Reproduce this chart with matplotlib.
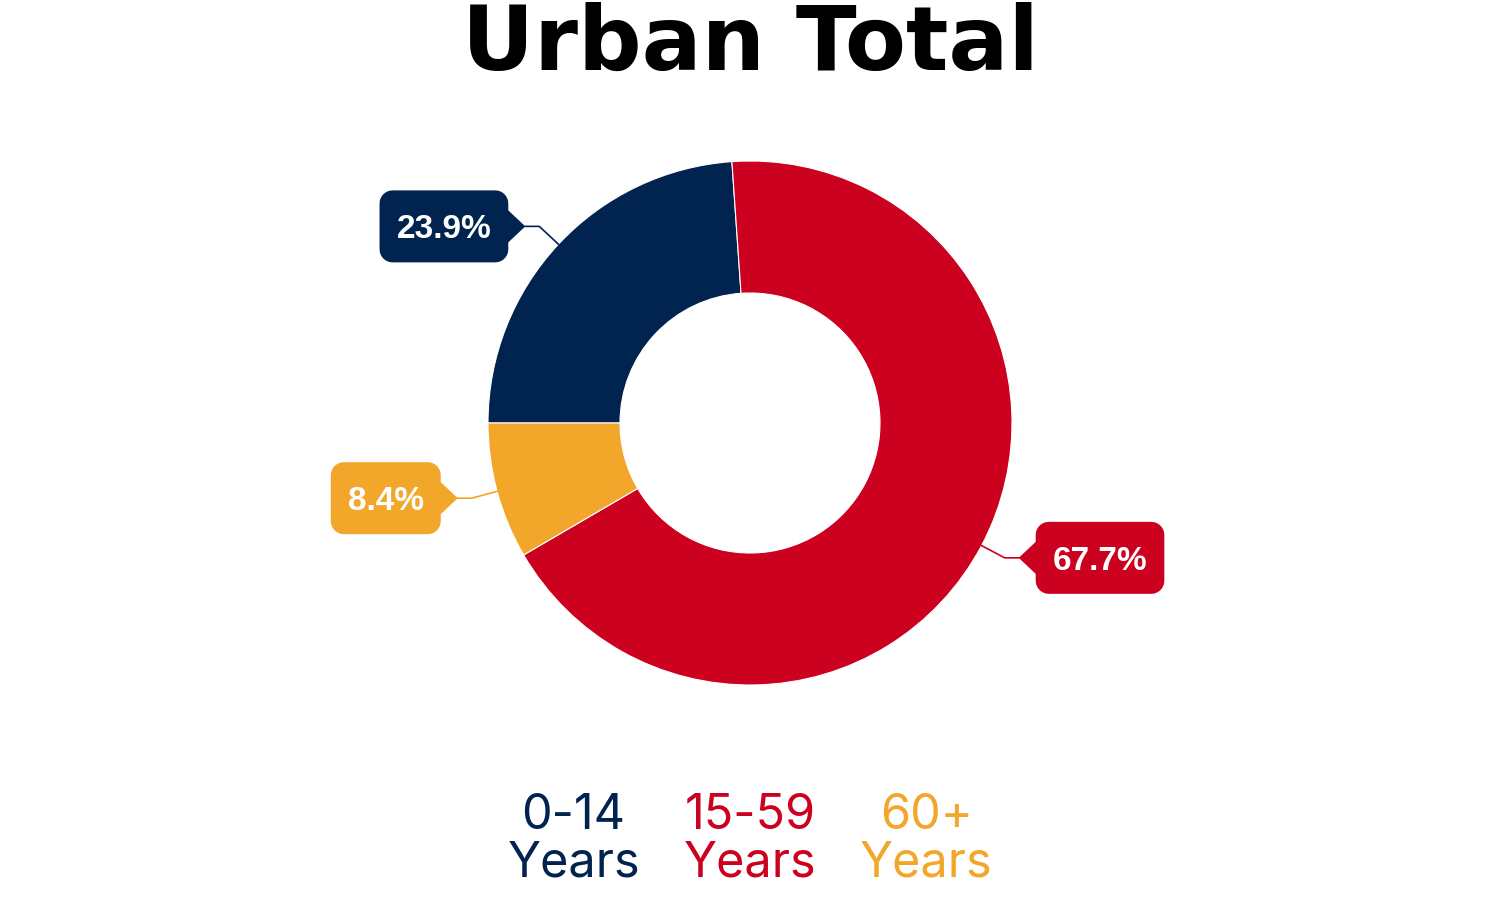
import matplotlib
matplotlib.use("Agg")
import matplotlib.pyplot as plt
import numpy as np
from matplotlib.patches import Polygon, Patch

# data
labels = ["0-14\nYears", "15-59\nYears", "60+\nYears"]
values = [23.9, 67.7, 8.4]
colors = ["#00234F", "#CC001F", "#F2A72A"]
title = "Urban Total"

W, H = 1500, 900
cx, cy = 750, H - 423
r_out, r_in = 262, 130

fig = plt.figure(figsize=(15, 9), dpi=100)
fig.patch.set_facecolor("white")
ax = fig.add_axes([0, 0, 1, 1])

wedges, _ = ax.pie(values, colors=colors, startangle=180, counterclock=False,
                   radius=r_out, center=(cx, cy),
                   wedgeprops=dict(width=r_out - r_in, edgecolor="white", linewidth=0.8))
ax.set_xlim(0, W)
ax.set_ylim(0, H)
ax.set_aspect("equal")
ax.axis("off")


def arc(x, y, r, a0, a1, n=8):
    t = np.radians(np.linspace(a0, a1, n))
    return list(zip(x + r * np.cos(t), y + r * np.sin(t)))


def callout(x0, x1, yc, h, rad, side, tip, hb=16):
    y0, y1 = yc - h / 2, yc + h / 2
    pts = arc(x1 - rad, y0 + rad, rad, -90, 0)
    if side == "left":  # box on the left of the pie, pointer on its right side
        pts += [(x1, yc - hb), (tip, yc), (x1, yc + hb)]
    pts += arc(x1 - rad, y1 - rad, rad, 0, 90)
    pts += arc(x0 + rad, y1 - rad, rad, 90, 180)
    if side == "right":
        pts += [(x0, yc + hb), (tip, yc), (x0, yc - hb)]
    pts += arc(x0 + rad, y0 + rad, rad, 180, 270)
    return pts


renderer = fig.canvas.get_renderer()
for w, v, c in zip(wedges, values, colors):
    mid = np.radians((w.theta1 + w.theta2) / 2)
    sx, sy = cx + r_out * np.cos(mid), cy + r_out * np.sin(mid)
    ex, ey = cx + 1.1 * r_out * np.cos(mid), cy + 1.1 * r_out * np.sin(mid)
    side = "right" if np.cos(mid) > 0 else "left"
    sgn = 1 if side == "right" else -1
    tip = ex + sgn * 14
    edge = tip + sgn * 17
    ax.plot([sx, ex, tip], [sy, ey, ey], color=c, lw=1.2, zorder=3)
    pad = 17
    txt = ax.text(edge + sgn * pad, ey, f"{v}%", color="white", fontsize=24,
                  fontweight="bold", family="Liberation Sans",
                  ha="left" if side == "right" else "right", va="center_baseline", zorder=5)
    bb = txt.get_window_extent(renderer)
    tw = bb.width
    if side == "right":
        x0, x1 = edge, edge + tw + 2 * pad
    else:
        x0, x1 = edge - tw - 2 * pad, edge
    ax.add_patch(Polygon(callout(x0, x1, ey, 72, 13, side, tip), closed=True,
                         facecolor=c, edgecolor="none", zorder=4))

ax.text(W / 2, H - 70, title, ha="center", va="baseline", fontsize=64,
        fontweight="bold", family="DejaVu Sans", color="black")

handles = [Patch(visible=False) for _ in labels]
leg = fig.legend(handles, labels, loc="center", bbox_to_anchor=(0.5, (H - 840) / H),
                 ncol=3, frameon=False, handlelength=0, handletextpad=0,
                 columnspacing=0.9, labelcolor=colors,
                 prop={"family": "Inter", "size": 35})
for t in leg.get_texts():
    t.set_multialignment("center")
    t.set_linespacing(1.05)

fig.savefig("out.png", dpi=100, facecolor="white")
